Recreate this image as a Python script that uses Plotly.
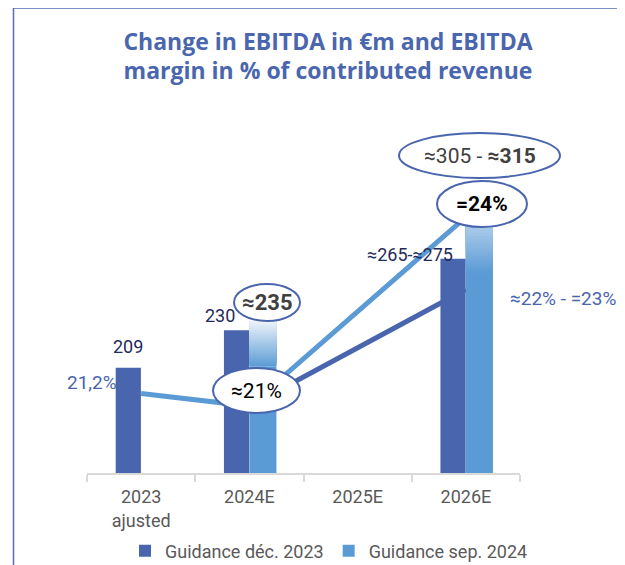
import plotly.graph_objects as go

# ---------------- data ----------------
categories = ["2023<br>ajusted", "2024E", "2025E", "2026E"]
ebitda_dec2023 = [209, 230, None, 270]        # Guidance déc. 2023 (€m)
ebitda_sep2024 = [None, 235, None, 310]       # Guidance sep. 2024 (€m)
margin_dec2023 = [None, 21.0, None, 22.85]    # EBITDA margin, guidance déc. 2023 (%)
margin_sep2024 = [21.2, 21.0, None, 24.0]     # EBITDA margin, guidance sep. 2024 (%)
bar_labels_dec = ["209", "230", None, "≈265-≈275"]
legend_names = ["Guidance déc. 2023", "Guidance sep. 2024"]

# ---------------- style ----------------
OFF = 8                      # page body margin
W, H = 625 - OFF, 565 - OFF
L, T = 87 - OFF, 130 - OFF
R, B = 105, 92
PW, PH = W - L - R, H - T - B
DARK = "#4865AE"
LIGHT = "#5B9BD5"
NAVY = "#1F2B5B"
GREY = "#595959"
FONT = "Roboto"

def X(px):   # reference-page pixel -> paper x
    return (px - OFF - L) / PW

def Y(py):   # reference-page pixel -> paper y
    return (H - B - (py - OFF)) / PH

BAR_MIN, BAR_MAX = 150, 342.2
M_MIN, M_MAX = 19.937, 25.381

fig = go.Figure()

# margin lines (drawn behind the bars)
fig.add_trace(go.Scatter(x=categories, y=margin_sep2024, mode="lines", connectgaps=True,
                         line=dict(color=LIGHT, width=5), showlegend=False, yaxis="y",
                         hoverinfo="skip"))
fig.add_trace(go.Scatter(x=categories, y=margin_dec2023, mode="lines", connectgaps=True,
                         line=dict(color=DARK, width=5), showlegend=False, yaxis="y",
                         hoverinfo="skip"))

# dark bars
fig.add_trace(go.Bar(x=categories, y=ebitda_dec2023, name=legend_names[0],
                     marker=dict(color=DARK, line=dict(width=0)),
                     offset=-0.235, width=0.233, yaxis="y2"))

# light bars: solid lower part + gradient top
GRAD_FRAC = 0.30
solid = [None if v is None else v - GRAD_FRAC * (v - BAR_MIN) for v in ebitda_sep2024]
fig.add_trace(go.Bar(x=categories, y=solid, name=legend_names[1],
                     marker=dict(color=LIGHT, line=dict(width=0)),
                     offset=0.0, width=0.25, yaxis="y2"))

def mix(c1, c2, t):
    a = [int(c1[i:i + 2], 16) for i in (1, 3, 5)]
    b = [int(c2[i:i + 2], 16) for i in (1, 3, 5)]
    return "rgb(%d,%d,%d)" % tuple(round(a[k] + (b[k] - a[k]) * t) for k in range(3))

N = 30
gx, gbase, gh, gcol = [], [], [], []
for cat, v, s in zip(categories, ebitda_sep2024, solid):
    if v is None:
        continue
    step = (v - s) / N
    for i in range(N):
        b0 = s + i * step
        gx.append(cat)
        gbase.append(b0)
        gh.append(v - b0)
        gcol.append(mix(LIGHT, "#EDF3FA", (i + 0.5) / N))
fig.add_trace(go.Bar(x=gx, y=gh, base=gbase, marker=dict(color=gcol, line=dict(width=0)),
                     offset=0.0, width=0.25, yaxis="y2", showlegend=False, hoverinfo="skip"))

shapes = []
annotations = []

# frame
shapes.append(dict(type="rect", xref="paper", yref="paper",
                   x0=X(13.5), x1=X(640), y0=Y(8), y1=Y(580),
                   line=dict(color="#5470B3", width=1.5), fillcolor="rgba(0,0,0,0)", layer="below"))

# data labels
label_shift = {"2023<br>ajusted": (-13, 21), "2024E": (-29.5, 15), "2026E": (-55.5, 4.5)}
for cat, v, txt in zip(categories, ebitda_dec2023, bar_labels_dec):
    if v is None:
        continue
    dx, dy = label_shift[cat]
    annotations.append(dict(x=cat, y=v, xref="x", yref="y2", text=txt, showarrow=False,
                            xshift=dx, yshift=dy, yanchor="middle",
                            font=dict(family=FONT, size=18, color=NAVY)))

# margin labels
annotations.append(dict(x=categories[0], y=margin_sep2024[0], xref="x", yref="y",
                        text="21,2%", showarrow=False, xshift=-49, yshift=11,
                        font=dict(family=FONT, size=19, color=DARK)))
annotations.append(dict(x=categories[3], y=margin_dec2023[3], xref="x", yref="y",
                        text="≈22% - =23%", showarrow=False, xshift=97.5, yshift=-9,
                        font=dict(family=FONT, size=19, color=DARK)))

# callout ellipses
callouts = [
    ((234, 300, 284, 321), "<b>≈235</b>", "#404040", 22),
    ((213, 300, 368, 413), "≈21%", "#000000", 21),
    ((399, 560, 133, 178), "≈305 - <b>≈315</b>", "#404040", 21),
    ((437, 527, 181, 227), "<b>=24%</b>", "#000000", 21),
]
for (x0, x1, y0, y1), txt, col, sz in callouts:
    shapes.append(dict(type="circle", xref="paper", yref="paper",
                       x0=X(x0), x1=X(x1), y0=Y(y1), y1=Y(y0),
                       fillcolor="white", line=dict(color=DARK, width=2), layer="above"))
    annotations.append(dict(x=X((x0 + x1) / 2), y=Y((y0 + y1) / 2), xref="paper", yref="paper",
                            text=txt, showarrow=False, xanchor="center", yanchor="middle",
                            font=dict(family=FONT, size=sz, color=col)))

fig.update_layout(
    width=W, height=H,
    margin=dict(l=L, r=R, t=T, b=B, autoexpand=False),
    paper_bgcolor="white", plot_bgcolor="white",
    barmode="overlay",
    title=dict(text="Change in EBITDA in €m and EBITDA<br>margin in % of contributed revenue",
               x=(328 - OFF) / W, xref="container", xanchor="center",
               y=1 - (49.5 - OFF) / H, yref="container", yanchor="middle",
               font=dict(family="Open Sans", size=23, color="#4A66AE", weight="bold")),
    xaxis=dict(type="category", categoryorder="array", categoryarray=categories,
               range=[-0.5, 3.5], showline=True, linecolor="#D9D9D9", linewidth=1.5,
               ticks="outside", tickson="boundaries", ticklen=7, tickcolor="#D9D9D9",
               tickwidth=1.5, showgrid=False, zeroline=False, automargin=False,
               ticklabelstandoff=7,
               tickfont=dict(family=FONT, size=18, color=GREY)),
    yaxis=dict(range=[M_MIN, M_MAX], visible=False, fixedrange=True),
    yaxis2=dict(range=[BAR_MIN, BAR_MAX], visible=False, overlaying="y", fixedrange=True),
    legend=dict(orientation="h", x=X(329), xanchor="center", y=Y(551), yanchor="middle",
                font=dict(family=FONT, size=18, color=GREY), itemwidth=30,
                bgcolor="rgba(0,0,0,0)"),
    shapes=shapes, annotations=annotations,
    showlegend=True,
)

fig.write_html("out.html")
